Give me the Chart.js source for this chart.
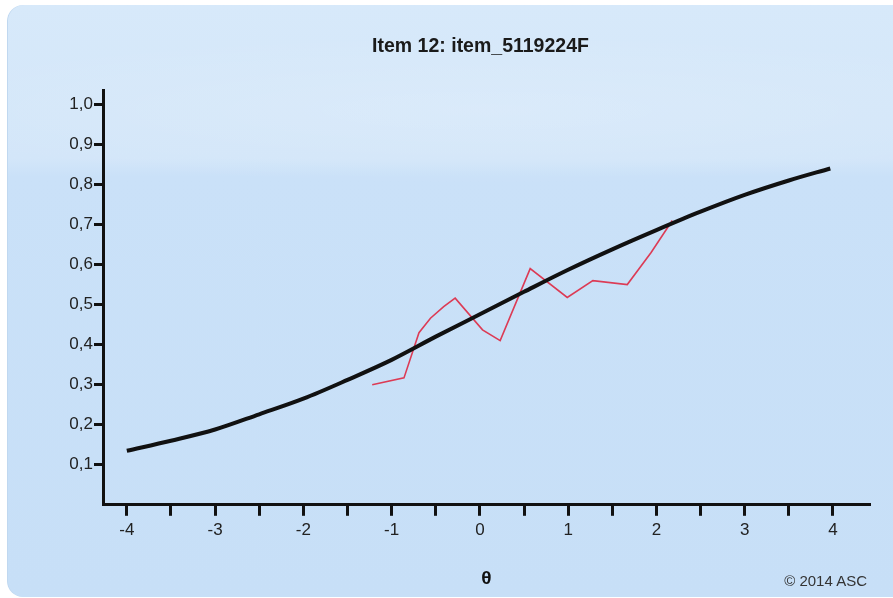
<!DOCTYPE html>
<html>
<head>
<meta charset="utf-8">
<script src="https://cdn.jsdelivr.net/npm/chart.js@4.4.0/dist/chart.umd.min.js"></script>
<style>
  html, body { margin: 0; padding: 0; background: #ffffff; }
  #wrap { position: relative; width: 893px; height: 598px; overflow: hidden; background: #fff; }
  #panel {
    position: absolute; left: 7px; top: 5px; width: 900px; height: 592px;
    border-radius: 16px;
    background:
      radial-gradient(ellipse 900px 110px at 480px 105px, rgba(255,255,255,0.14), rgba(255,255,255,0) 70%),
      linear-gradient(to bottom, #d7e9fa 0%, #d3e6f9 26%, #cae1f8 29%, #c7dff7 100%);
    box-shadow: inset 1px 0 0 #c0d8f0;
  }
  #c { position: absolute; left: 0; top: 0; }
  #copy {
    position: absolute; right: 26px; top: 572px;
    font-family: "Liberation Sans", Arial, sans-serif; font-size: 15px; color: #333;
  }
</style>
</head>
<body>
<div id="wrap">
  <div id="panel"></div>
  <canvas id="c" width="893" height="598"></canvas>
  <div id="copy">© 2014 ASC</div>
</div>
<script>
// ---- data ----
const titleText = 'Item 12: item_5119224F';
const xAxisTitle = 'θ';

// model (item characteristic) curve
const curveTheta = [-4.0, -3.5, -3.0, -2.5, -2.0, -1.5, -1.0, -0.5, 0.0, 0.5, 1.0, 1.5, 2.0, 2.5, 3.0, 3.5, 3.97];
const curveProb  = [0.135, 0.160, 0.188, 0.226, 0.265, 0.312, 0.362, 0.420, 0.476, 0.532, 0.587, 0.638, 0.686, 0.732, 0.774, 0.810, 0.840];

// observed proportions
const obsTheta = [-1.22, -0.86, -0.69, -0.56, -0.41, -0.28, 0.03, 0.23, 0.57, 0.99, 1.28, 1.67, 1.94, 2.18];
const obsProb  = [0.300, 0.317, 0.430, 0.466, 0.495, 0.516, 0.437, 0.410, 0.590, 0.518, 0.560, 0.550, 0.630, 0.710];

const xMin = -4.27, xMax = 4.42, xStep = 0.5;
const yMin = 0, yMax = 1.035, yStep = 0.1;

const toPts = (xs, ys) => xs.map((x, i) => ({ x: x, y: ys[i] }));

const font = "'Liberation Sans', Arial, sans-serif";

// centre the title over the plot area (as in the reference)
const titleOverPlot = {
  id: 'titleOverPlot',
  afterLayout(chart) {
    const t = chart.titleBlock;
    if (t) { t.left = chart.chartArea.left - 12; t.right = chart.chartArea.right; }
  }
};

new Chart(document.getElementById('c'), {
  type: 'line',
  data: {
    datasets: [
      {
        label: 'observed',
        data: toPts(obsTheta, obsProb),
        borderColor: '#dc3b55',
        borderWidth: 1.6,
        pointRadius: 0,
        tension: 0,
        fill: false,
        order: 1
      },
      {
        label: 'model',
        data: toPts(curveTheta, curveProb),
        borderColor: '#111111',
        borderWidth: 4,
        pointRadius: 0,
        cubicInterpolationMode: 'monotone',
        fill: false,
        order: 0
      }
    ]
  },
  plugins: [titleOverPlot],
  options: {
    responsive: false,
    animation: false,
    events: [],
    layout: { padding: { left: 0, right: 23, top: 0, bottom: 0 } },
    plugins: {
      legend: { display: false },
      tooltip: { enabled: false },
      title: {
        display: true,
        text: titleText,
        color: '#1a1a1a',
        font: { family: font, size: 19.5, weight: 'bold' },
        padding: { top: 35, bottom: 32 }
      }
    },
    scales: {
      x: {
        type: 'linear',
        min: xMin, max: xMax,
        grid: { drawOnChartArea: false, drawTicks: true, tickLength: 11, tickWidth: 3, tickColor: '#111' },
        border: { display: true, color: '#111', width: 3 },
        ticks: {
          stepSize: xStep,
          includeBounds: false,
          autoSkip: false,
          maxRotation: 0,
          padding: 4,
          color: '#222',
          font: { family: font, size: 17 },
          callback: (v) => Number.isInteger(Math.round(v * 1000) / 1000) ? String(Math.round(v)) : ''
        },
        title: {
          display: true,
          text: xAxisTitle,
          color: '#111',
          font: { family: font, size: 19, weight: 'bold' },
          padding: { top: 23, bottom: 8 }
        }
      },
      y: {
        type: 'linear',
        min: yMin, max: yMax,
        afterFit: (s) => { s.width = 103; },
        grid: { drawOnChartArea: false, drawTicks: true, tickLength: 9, tickWidth: 3, tickColor: '#111' },
        border: { display: true, color: '#111', width: 3 },
        ticks: {
          stepSize: yStep,
          includeBounds: false,
          autoSkip: false,
          padding: 1,
          color: '#222',
          font: { family: font, size: 17 },
          callback: (v) => {
            const r = Math.round(v * 10) / 10;
            if (r === 0) return null;
            return r.toFixed(1).replace('.', ',');
          }
        }
      }
    }
  }
});
</script>
</body>
</html>
